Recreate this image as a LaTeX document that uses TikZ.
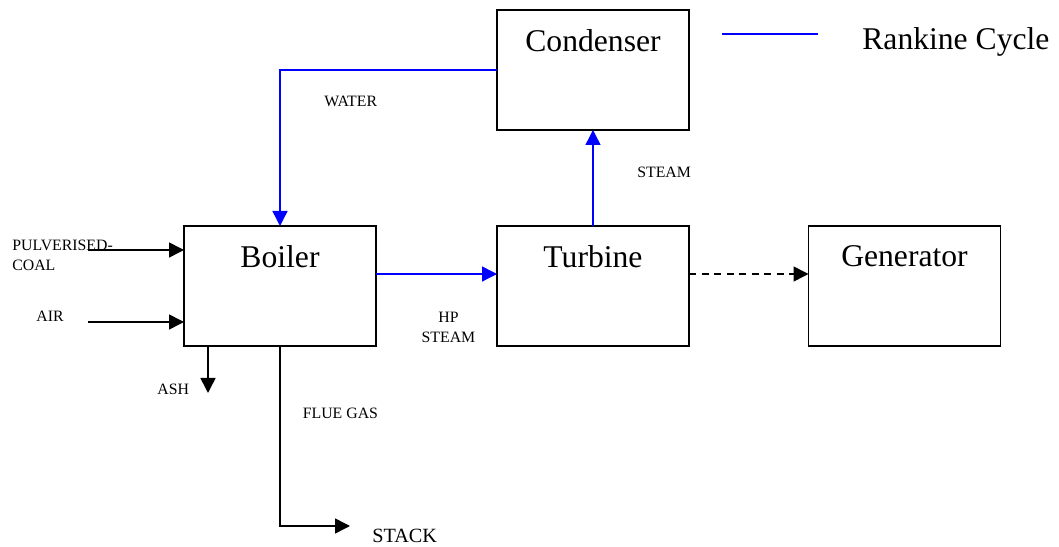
\documentclass[tikz,border=0pt]{standalone}
\usepackage{fontspec}
\setmainfont{Liberation Serif}
\usepackage{xcolor}
\usetikzlibrary{arrows.meta, positioning}
\definecolor{rblue}{HTML}{0000FF}

\tikzset{
  unitbox/.style={draw=black, line width=0.9pt, minimum width=3.84cm,
    minimum height=2.40cm, inner sep=0pt, outer sep=0pt},
  unitname/.style={font=\fontsize{18}{20}\selectfont, inner sep=0pt},
  tag/.style={font=\fontsize{9}{11.3}\selectfont, inner sep=0pt},
  flow/.style={-{Triangle[length=0.30cm,width=0.30cm]}, black, line width=0.9pt},
  cycleflow/.style={-{Triangle[length=0.30cm,width=0.30cm]}, rblue, line width=0.8pt},
}

\begin{document}
\begin{tikzpicture}[x=1cm, y=1cm]
  \useasboundingbox (0,0) rectangle (21.18,10.94);

  %% ── Units ─────────────────────────────────────────────────────────────
  \node[unitbox] (boiler)    at (5.60,5.22)  {};
  \node[unitbox] (turbine)   at (11.86,5.22) {};
  \node[unitbox] (generator) at (18.09,5.22) {};
  \node[unitbox] (condenser) at (11.86,9.54) {};
  \node[unitname, below=0.39cm of boiler.north]    (boilername)    {Boiler};
  \node[unitname, below=0.39cm of turbine.north]   (turbinename)   {Turbine};
  \node[unitname, below=0.39cm of generator.north] (generatorname) {Generator};
  \node[unitname, below=0.39cm of condenser.north] (condensername) {Condenser};

  %% ── Legend ────────────────────────────────────────────────────────────
  \draw[rblue, line width=0.8pt] (14.44,10.26) -- (16.36,10.26);
  \node[unitname, anchor=base west] (rankine) at (17.24,9.94) {Rankine Cycle};

  %% ── Rankine cycle (blue) ──────────────────────────────────────────────
  \draw[cycleflow] (condenser.west) -| (boiler.north);
  \draw[cycleflow] ([yshift=0.24cm]boiler.east) -- ([yshift=0.24cm]turbine.west);
  \draw[cycleflow] (turbine.north) -- (condenser.south);
  \node[tag, anchor=base west] (water) at (6.48,8.80) {WATER};
  \node[tag, anchor=base west] (steam) at (12.74,7.38) {STEAM};
  \node[tag, anchor=north, align=center] (hpsteam) at (8.97,4.70) {HP\\STEAM};

  %% Shaft to generator
  \draw[flow, dash pattern=on 0.14cm off 0.11cm]
    ([yshift=0.24cm]turbine.east) -- ([yshift=0.24cm]generator.west);

  %% ── Boiler inputs and outputs ─────────────────────────────────────────
  \coordinate (coalin) at (1.76,5.94);
  \coordinate (airin)  at (1.76,4.50);
  \coordinate (stackin) at (7.00,0.42);
  \node[tag, anchor=north west, align=left] (coal) at (0.24,6.14) {PULVERISED-\\COAL};
  \node[tag, anchor=base west] (air) at (0.72,4.50) {AIR};
  \draw[flow] (coalin) -- (coalin -| boiler.west);
  \draw[flow] (airin) -- (airin -| boiler.west);

  \draw[flow] ([xshift=-1.44cm]boiler.south) -- ++(0,-0.94);
  \node[tag, anchor=base west] (ash) at (3.14,3.04) {ASH};

  \draw[flow] (boiler.south) |- (stackin);
  \node[tag, anchor=base west] (fluegas) at (6.05,2.56) {FLUE GAS};
  \node[font=\fontsize{11.5}{13}\selectfont, inner sep=0pt, anchor=base west]
    (stack) at (7.44,0.08) {STACK};

\end{tikzpicture}
\end{document}
